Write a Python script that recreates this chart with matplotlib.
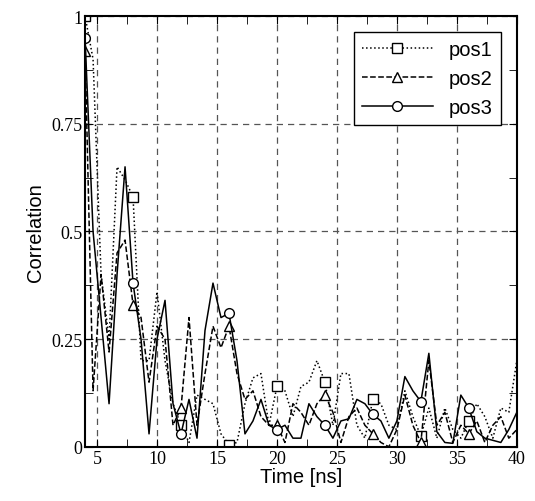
import numpy as np
import matplotlib
matplotlib.use("Agg")
import matplotlib.pyplot as plt

t = 4 + np.arange(55) * (2/3)
pos1 = [1.0,0.9,0.4,0.25,0.65,0.62,0.58,0.2,0.2,0.36,0.2,0.1,0.05,0.01,0.12,0.11,0.1,0.03,0.005,0.01,
        0.1,0.16,0.17,0.05,0.14,0.13,0.07,0.14,0.15,0.2,0.15,0.05,0.17,0.17,0.05,0.02,0.11,0.1,0.05,0.04,
        0.13,0.07,0.025,0.09,0.02,0.09,0.04,0.02,0.06,0.1,0.07,0.02,0.09,0.08,0.2]
pos2 = [0.92,0.13,0.4,0.22,0.45,0.48,0.33,0.3,0.15,0.28,0.25,0.05,0.09,0.3,0.05,0.17,0.28,0.23,0.28,0.17,
        0.11,0.13,0.07,0.05,0.05,0.01,0.1,0.08,0.05,0.1,0.12,0.08,0.01,0.07,0.09,0.05,0.03,0.01,0.0,0.04,
        0.12,0.05,0.01,0.2,0.05,0.08,0.01,0.05,0.03,0.06,0.01,0.05,0.07,0.02,0.04]
pos3 = [0.95,0.5,0.3,0.1,0.4,0.65,0.38,0.25,0.03,0.25,0.34,0.1,0.03,0.11,0.02,0.27,0.38,0.3,0.31,0.2,
        0.03,0.06,0.11,0.05,0.04,0.05,0.02,0.02,0.1,0.07,0.05,0.02,0.06,0.065,0.11,0.1,0.075,0.06,0.02,0.06,
        0.163,0.13,0.105,0.217,0.035,0.01,0.008,0.12,0.09,0.035,0.02,0.015,0.01,0.04,0.08]

fig = plt.figure(figsize=(5.35, 5.02), dpi=100)
ax = fig.add_axes([0.159, 0.108, 0.807, 0.858])
kw = dict(color='black', lw=1.1, markevery=list(range(0, 54, 6)), markersize=7,
          markerfacecolor='white', markeredgewidth=1.0)
ax.plot(t, pos1, ls=':', marker='s', label='pos1', **kw)
ax.plot(t, pos2, ls='--', marker='^', label='pos2', **kw)
ax.plot(t, pos3, ls='-', marker='o', label='pos3', **kw)
ax.set_xlim(4, 40)
ax.set_ylim(0, 1)
ax.set_xticks([5,10,15,20,25,30,35,40])
ax.set_yticks([0,0.25,0.5,0.75,1])
ax.set_yticklabels(['0','0.25','0.5','0.75','1'])
ax.set_yticks([0.125,0.375,0.625,0.875], minor=True)
ax.set_xticks([7.5,12.5,17.5,22.5,27.5,32.5,37.5], minor=True)
ax.tick_params(direction='in', top=True, right=True, which='both', length=6, labelsize=13, pad=2)
for lab in ax.get_xticklabels() + ax.get_yticklabels():
    lab.set_family('Liberation Serif')
ax.grid(True, ls=(0,(5,4)), color='#555555', lw=0.9)
for s in ax.spines.values():
    s.set_linewidth(1.5)
ax.set_xlabel('Time [ns]', fontsize=14.5, labelpad=0, family='Liberation Sans')
ax.set_ylabel('Correlation', fontsize=14.5, family='Liberation Sans')
leg = ax.legend(loc='upper right', fancybox=False, edgecolor='black',
                framealpha=1, handlelength=3.5, borderaxespad=0.8, prop={'family': 'Liberation Sans', 'size': 14.5})
leg.get_frame().set_linewidth(1.0)
fig.savefig('out.png', dpi=100)
